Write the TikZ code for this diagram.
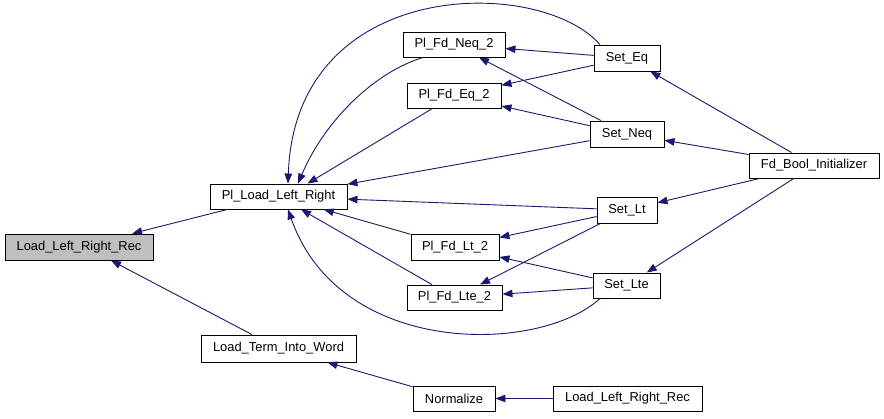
\documentclass[tikz,border=0pt]{standalone}
\usepackage{fontspec}
\setmainfont{Liberation Sans}
\usetikzlibrary{arrows.meta}
\definecolor{edgec}{HTML}{191970}
\definecolor{grayfill}{HTML}{BFBFBF}
\begin{document}
\begin{tikzpicture}[x=1pt,y=-1pt,
  fn/.style={draw=black, line width=0.9pt, fill=white, inner sep=0pt, font=\fontsize{12.9}{15}\selectfont},
  edge/.style={draw=edgec, line width=0.9pt, -{Triangle[length=10pt,width=7.5pt]}, edgec},
]
\fill[white] (0,0) rectangle (884,418);
\useasboundingbox (0,0) rectangle (884,418);
% nodes
\node[fn, fill=grayfill, minimum width=148pt, minimum height=26pt] (llrr) at (79,247) {Load\_Left\_Right\_Rec};
\node[fn, minimum width=137pt, minimum height=25pt] (pllr) at (278.5,196.5) {Pl\_Load\_Left\_Right};
\node[fn, minimum width=102pt, minimum height=25pt] (neqtwo) at (454,44.5) {Pl\_Fd\_Neq\_2};
\node[fn, minimum width=94pt, minimum height=25pt] (eqtwo) at (454,95.5) {Pl\_Fd\_Eq\_2};
\node[fn, minimum width=88pt, minimum height=26pt] (lttwo) at (455,247) {Pl\_Fd\_Lt\_2};
\node[fn, minimum width=95pt, minimum height=25pt] (ltetwo) at (454.5,297.5) {Pl\_Fd\_Lte\_2};
\node[fn, minimum width=66pt, minimum height=26pt] (seteq) at (627,58) {Set\_Eq};
\node[fn, minimum width=74pt, minimum height=26pt] (setneq) at (627,134) {Set\_Neq};
\node[fn, minimum width=60pt, minimum height=26pt] (setlt) at (627,210) {Set\_Lt};
\node[fn, minimum width=67pt, minimum height=25pt] (setlte) at (626.5,285.5) {Set\_Lte};
\node[fn, minimum width=130pt, minimum height=25pt] (fdbool) at (814,165.5) {Fd\_Bool\_Initializer};
\node[fn, minimum width=155pt, minimum height=27pt] (ltiw) at (278.5,348.5) {Load\_Term\_Into\_Word};
\node[fn, minimum width=82pt, minimum height=25pt] (norm) at (454,398.5) {Normalize};
\node[fn, minimum width=149pt, minimum height=25pt] (llrrtwo) at (627.5,398.5) {Load\_Left\_Right\_Rec};
% edges
\draw[edge] (pllr) -- (llrr);
\draw[edge] (ltiw) -- ([xshift=32pt]llrr.south);
\draw[edge] ([xshift=-31pt]neqtwo.south) .. controls (375,72) and (325,120) .. ([xshift=19.5pt]pllr.north);
\draw[edge] (eqtwo) -- ([xshift=29pt]pllr.north);
\draw[edge] ([xshift=-27pt]seteq.north) .. controls (540,-24) and (295,-24) .. ([xshift=9.5pt]pllr.north);
\draw[edge] (setneq) -- (pllr);
\draw[edge] (setlt) -- (pllr);
\draw[edge] (lttwo) -- (pllr);
\draw[edge] (ltetwo) -- (pllr);
\draw[edge] ([xshift=-26.5pt]setlte.south) .. controls (540,354) and (340,358) .. ([xshift=9.5pt]pllr.south);
\draw[edge] (seteq) -- (neqtwo);
\draw[edge] (setneq) -- (neqtwo);
\draw[edge] (seteq) -- (eqtwo);
\draw[edge] (setneq) -- (eqtwo);
\draw[edge] (setlt) -- (lttwo);
\draw[edge] (setlte) -- (lttwo);
\draw[edge] (setlt) -- (ltetwo);
\draw[edge] (setlte) -- (ltetwo);
\draw[edge] (fdbool) -- (seteq);
\draw[edge] (fdbool) -- (setneq);
\draw[edge] (fdbool) -- (setlt);
\draw[edge] (fdbool) -- (setlte);
\draw[edge] (norm) -- (ltiw);
\draw[edge] (llrrtwo) -- (norm);
\end{tikzpicture}
\end{document}
